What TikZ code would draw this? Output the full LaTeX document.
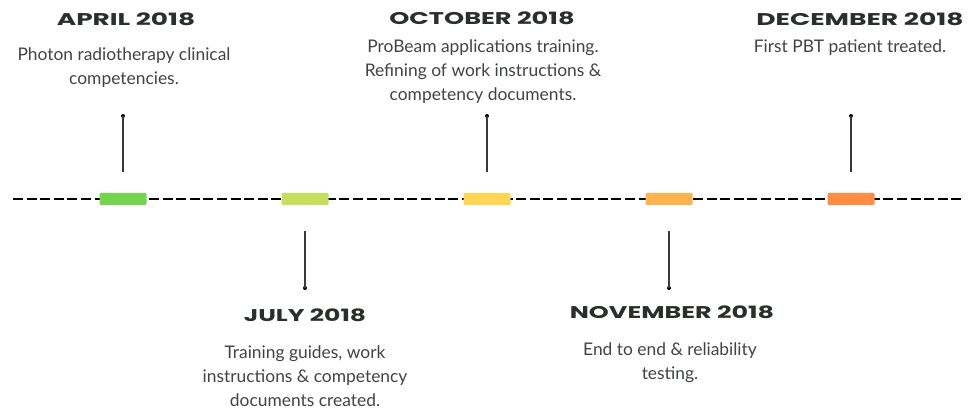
\documentclass[tikz,border=0pt]{standalone}
\usepackage{fontspec}
\setmainfont{Lato}
\newfontfamily\titlefont[FakeStretch=1.15]{Poppins}
\definecolor{ink}{HTML}{2B2F2B}
\definecolor{stemc}{HTML}{3A3A3A}
\definecolor{cA}{HTML}{74D44E}
\definecolor{cB}{HTML}{C6DE5C}
\definecolor{cC}{HTML}{FFD653}
\definecolor{cD}{HTML}{FDB44F}
\definecolor{cE}{HTML}{FF8C42}
\newcommand{\widettl}[2]{\scalebox{#1}[1]{#2}}
\tikzset{
  ttl/.style={text=ink, font=\titlefont\bfseries\fontsize{17}{20}\selectfont, inner sep=0pt},
  txt/.style={text=ink!90, font=\fontsize{17.4}{24}\selectfont, align=center, inner sep=0pt},
  barbox/.style={minimum width=47pt, minimum height=12pt, inner sep=0pt, rounded corners=1.2pt},
  stem/.style={stemc, line width=1.4pt},
  dotend/.style={circle, fill=black, inner sep=0pt, minimum size=4pt},
  axis/.style={black, line width=2pt, dash pattern=on 10pt off 3.6pt}
}
\begin{document}
\begin{tikzpicture}[x=1pt,y=-1pt]
\useasboundingbox (0,0) rectangle (973,411);
\coordinate (L) at (13,199);
\coordinate (R) at (963,199);
\draw[axis] (L) -- (R);
\node[barbox, fill=cA] (b1) at (123,199) {};
\node[barbox, fill=cB] (b2) at (305,199) {};
\node[barbox, fill=cC] (b3) at (487,199) {};
\node[barbox, fill=cD] (b4) at (669,199) {};
\node[barbox, fill=cE] (b5) at (851,199) {};
% upper stems
\node[dotend] (u1) at (123,116) {};
\node[dotend] (u3) at (487,116) {};
\node[dotend] (u5) at (851,116) {};
\draw[stem] (u1.center) -- ([yshift=21pt]b1.north);
\draw[stem] (u3.center) -- ([yshift=21pt]b3.north);
\draw[stem] (u5.center) -- ([yshift=21pt]b5.north);
% lower stems
\node[dotend] (l2) at (305,288) {};
\node[dotend] (l4) at (669,288) {};
\draw[stem] ([yshift=-26pt]b2.south) -- (l2.center);
\draw[stem] ([yshift=-26pt]b4.south) -- (l4.center);
% texts
\node[ttl] (t1) at (126,19) {\widettl{1.35}{APRIL 2018}};
\node[txt] (d1) at (124,68) {Photon radiotherapy clinical\\competencies.};
\node[ttl] (t3) at (482,18) {\widettl{1.31}{OCTOBER 2018}};
\node[txt] (d3) at (483,72) {ProBeam applications training.\\Refining of work instructions \&\\competency documents.};
\node[ttl] (t5) at (860,19) {\widettl{1.36}{DECEMBER 2018}};
\node[txt] (d5) at (850,48) {First PBT patient treated.};
\node[ttl] (t2) at (305,315) {\widettl{1.28}{JULY 2018}};
\node[txt] (d2) at (305,376) {Training guides, work\\instructions \& competency\\documents created.};
\node[ttl] (t4) at (672,312) {\widettl{1.30}{NOVEMBER 2018}};
\node[txt] (d4) at (670,363) {End to end \& reliability\\testing.};
\end{tikzpicture}
\end{document}
